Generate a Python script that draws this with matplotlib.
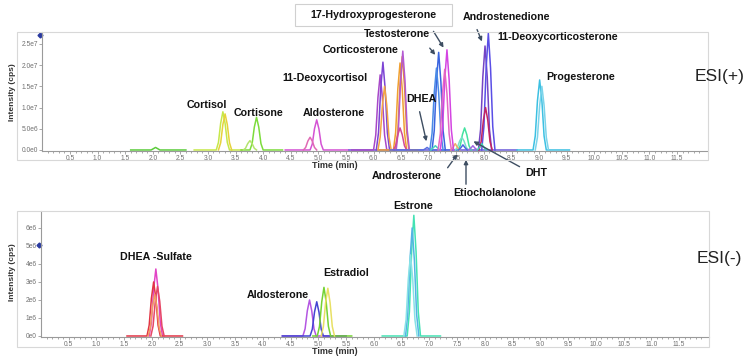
import numpy as np
import matplotlib
matplotlib.use("Agg")
import matplotlib.pyplot as plt
from matplotlib.patches import Rectangle, FancyArrowPatch

plt.rcParams['font.family'] = ['Liberation Sans', 'DejaVu Sans']

# ---------------- ESI(+) traces : time (min), intensity (1e7 cps) ----------------
early_t = [[1.6, 1.97, 2.01, 2.05, 2.09, 2.13, 2.6]]
early_i = [[0, 0, 0.03, 0.06, 0.03, 0, 0]]
early_c = ['#5ccc3c']

cortisol_t = [[2.75, 3.15, 3.19, 3.23, 3.27, 3.31, 3.35, 3.39, 3.62],
              [3.19, 3.23, 3.27, 3.31, 3.35, 3.39, 3.43]]
cortisol_i = [[0, 0, 0.18, 0.63, 0.9, 0.63, 0.18, 0, 0],
              [0, 0.17, 0.6, 0.85, 0.6, 0.17, 0]]
cortisol_c = ['#c6e84a', '#e6d23c']

cortisone_t = [[3.6, 3.76, 3.8, 3.84, 3.88, 3.92, 3.96, 4.0, 4.35],
               [3.64, 3.68, 3.72, 3.76, 3.8, 3.84, 3.88]]
cortisone_i = [[0, 0, 0.15, 0.54, 0.77, 0.54, 0.15, 0, 0],
               [0, 0.04, 0.15, 0.22, 0.15, 0.04, 0]]
cortisone_c = ['#7ddc3c', '#b4e46e']

aldo_pos_t = [[4.4, 4.85, 4.89, 4.93, 4.97, 5.01, 5.05, 5.09, 5.55],
              [4.73, 4.77, 4.81, 4.85, 4.89, 4.93, 4.97]]
aldo_pos_i = [[0, 0, 0.14, 0.5, 0.71, 0.5, 0.14, 0, 0],
              [0, 0.06, 0.21, 0.3, 0.21, 0.06, 0]]
aldo_pos_c = ['#d452d4', '#e06ab4']

baseline_t = [[5.55, 8.6]]
baseline_i = [[0, 0]]
baseline_c = ['#6a5ad8']

deoxycortisol_t = [[5.6, 6.0, 6.04, 6.08, 6.12, 6.16, 6.2, 6.24],
                   [6.05, 6.09, 6.13, 6.17, 6.21, 6.25, 6.29, 6.4],
                   [6.08, 6.12, 6.16, 6.2, 6.24, 6.28, 6.32]]
deoxycortisol_i = [[0, 0, 0.35, 1.24, 1.77, 1.24, 0.35, 0],
                   [0, 0.41, 1.45, 2.07, 1.45, 0.41, 0, 0],
                   [0, 0.3, 1.05, 1.5, 1.05, 0.3, 0]]
deoxycortisol_c = ['#a848c8', '#7c44d4', '#f2a444']

corticosterone_t = [[6.1, 6.36, 6.4, 6.44, 6.48, 6.52, 6.56, 6.6],
                    [6.4, 6.44, 6.48, 6.52, 6.56, 6.6, 6.64, 6.8],
                    [6.41, 6.45, 6.49, 6.53, 6.57, 6.61, 6.65],
                    [6.36, 6.4, 6.44, 6.48, 6.52, 6.56, 6.6]]
corticosterone_i = [[0, 0, 0.41, 1.44, 2.05, 1.44, 0.41, 0],
                    [0, 0.44, 1.54, 2.2, 1.54, 0.44, 0, 0],
                    [0, 0.47, 1.63, 2.33, 1.63, 0.47, 0],
                    [0, 0.1, 0.36, 0.52, 0.36, 0.1, 0]]
corticosterone_c = ['#f0a030', '#e8902c', '#b45ad2', '#d24a96']

dhea_t = [[6.3, 6.9, 6.94, 6.97, 7.0, 7.04, 7.5]]
dhea_i = [[0, 0, 0.03, 0.06, 0.03, 0, 0]]
dhea_c = ['#5a6ee0']

testo_t = [[7.06, 7.1, 7.14, 7.18, 7.22, 7.26, 7.3],
           [7.02, 7.06, 7.1, 7.14, 7.18, 7.22, 7.26],
           [7.04, 7.08, 7.12, 7.16, 7.2]]
testo_i = [[0, 0.46, 1.61, 2.3, 1.61, 0.46, 0],
           [0, 0.39, 1.35, 1.93, 1.35, 0.39, 0],
           [0, 0.05, 0.1, 0.05, 0]]
testo_c = ['#3a64e0', '#4a8ae6', '#48d6bc']

ohp_t = [[7.21, 7.25, 7.29, 7.33, 7.37, 7.41, 7.45],
         [7.17, 7.21, 7.25, 7.29, 7.33, 7.37, 7.41]]
ohp_i = [[0, 0.47, 1.65, 2.36, 1.65, 0.47, 0],
         [0, 0.38, 1.33, 1.9, 1.33, 0.38, 0]]
ohp_c = ['#d444e2', '#e466c4']

minor_t = [[7.53, 7.57, 7.61, 7.65, 7.69, 7.73, 7.77],
           [7.48, 7.52, 7.56, 7.6, 7.64, 7.68, 7.72],
           [7.4, 7.44, 7.48, 7.52, 7.56],
           [7.54, 7.58, 7.62, 7.66, 7.7],
           [7.72, 7.76, 7.8, 7.84, 7.88]]
minor_i = [[0, 0.1, 0.36, 0.52, 0.36, 0.1, 0],
           [0, 0.06, 0.21, 0.3, 0.21, 0.06, 0],
           [0, 0.06, 0.15, 0.06, 0],
           [0, 0.05, 0.12, 0.05, 0],
           [0, 0.04, 0.1, 0.04, 0]]
minor_c = ['#44e2a0', '#78e2c8', '#f0a868', '#4a66e0', '#a064e0']

dione_t = [[7.9, 7.94, 7.98, 8.02, 8.06, 8.1, 8.14],
           [7.96, 8.0, 8.04, 8.08, 8.12, 8.16, 8.2],
           [7.91, 7.95, 7.99, 8.03, 8.07, 8.11, 8.15],
           [7.88, 7.92, 7.96, 8.0, 8.04]]
dione_i = [[0, 0.49, 1.72, 2.45, 1.72, 0.49, 0],
           [0, 0.55, 1.93, 2.75, 1.93, 0.55, 0],
           [0, 0.2, 0.7, 1.0, 0.7, 0.2, 0],
           [0, 0.06, 0.15, 0.06, 0]]
dione_c = ['#7444c4', '#5a4ee6', '#c42462', '#44d4b4']

prog_t = [[8.6, 8.89, 8.93, 8.97, 9.01, 9.05, 9.09, 9.13, 9.55],
          [8.93, 8.97, 9.01, 9.05, 9.09, 9.13, 9.17]]
prog_i = [[0, 0, 0.33, 1.16, 1.65, 1.16, 0.33, 0, 0],
          [0, 0.3, 1.05, 1.5, 1.05, 0.3, 0]]
prog_c = ['#3cc0e2', '#7cd4ea']

# ---------------- ESI(-) traces : time (min), intensity (1e6 cps) ----------------
dheas_t = [[1.95, 1.99, 2.03, 2.07, 2.11, 2.15, 2.19],
           [1.55, 1.91, 1.95, 1.99, 2.03, 2.07, 2.11, 2.15, 2.55],
           [1.98, 2.02, 2.06, 2.1, 2.14, 2.18, 2.22],
           [1.93, 1.97, 2.01, 2.05, 2.09, 2.13, 2.17]]
dheas_i = [[0, 0.74, 2.6, 3.72, 2.6, 0.74, 0],
           [0, 0, 0.6, 2.1, 3.0, 2.1, 0.6, 0, 0],
           [0, 0.55, 1.93, 2.75, 1.93, 0.55, 0],
           [0, 0.46, 1.61, 2.3, 1.61, 0.46, 0]]
dheas_c = ['#e244c6', '#e23444', '#e64866', '#f0a064']

aldo_neg_t = [[4.35, 4.72, 4.76, 4.8, 4.84, 4.88, 4.92, 4.96, 5.5],
              [4.35, 4.85, 4.89, 4.93, 4.97, 5.01, 5.05, 5.09, 5.5]]
aldo_neg_i = [[0, 0, 0.4, 1.4, 2.0, 1.4, 0.4, 0, 0],
              [0, 0, 0.38, 1.33, 1.9, 1.33, 0.38, 0, 0]]
aldo_neg_c = ['#b456e2', '#4444d2']

estradiol_t = [[4.9, 4.98, 5.02, 5.06, 5.1, 5.14, 5.18, 5.22, 5.6],
               [5.05, 5.09, 5.13, 5.17, 5.21, 5.25, 5.29]]
estradiol_i = [[0, 0, 0.54, 1.89, 2.7, 1.89, 0.54, 0, 0],
               [0, 0.53, 1.86, 2.65, 1.86, 0.53, 0]]
estradiol_c = ['#74d234', '#e8e064']

estrone_t = [[6.15, 6.6, 6.64, 6.68, 6.72, 6.76, 6.8, 6.84, 7.2],
             [6.57, 6.61, 6.65, 6.69, 6.73, 6.77, 6.81],
             [6.54, 6.58, 6.62, 6.66, 6.7, 6.74, 6.78]]
estrone_i = [[0, 0, 1.34, 4.69, 6.7, 4.69, 1.34, 0, 0],
             [0, 1.2, 4.2, 6.0, 4.2, 1.2, 0],
             [0, 0.9, 3.15, 4.5, 3.15, 0.9, 0]]
estrone_c = ['#44e2b4', '#54b4e4', '#88e2e6']

x_ticks = np.arange(0.5, 12.0, 0.5)
pos_yticks = [0, 0.5e7, 1.0e7, 1.5e7, 2.0e7, 2.5e7]
pos_ylabels = ['0.0e0', '5.0e6', '1.0e7', '1.5e7', '2.0e7', '2.5e7']
neg_yticks = [0, 1e6, 2e6, 3e6, 4e6, 5e6, 6e6]
neg_ylabels = ['0e0', '1e6', '2e6', '3e6', '4e6', '5e6', '6e6']

W, H = 750, 360


def fx(px):
    return px / W


def fy(py):
    return 1 - py / H


fig = plt.figure(figsize=(7.5, 3.6), dpi=100)
ax1 = fig.add_axes([fx(42.4), fy(151), fx(708 - 42.4), (151 - 32) / H])
ax2 = fig.add_axes([fx(41), fy(337), fx(709 - 41), (337 - 211) / H])

pos_groups = [(early_t, early_i, early_c), (cortisol_t, cortisol_i, cortisol_c),
              (cortisone_t, cortisone_i, cortisone_c), (aldo_pos_t, aldo_pos_i, aldo_pos_c),
              (baseline_t, baseline_i, baseline_c), (deoxycortisol_t, deoxycortisol_i, deoxycortisol_c),
              (corticosterone_t, corticosterone_i, corticosterone_c), (dhea_t, dhea_i, dhea_c),
              (minor_t, minor_i, minor_c), (testo_t, testo_i, testo_c), (ohp_t, ohp_i, ohp_c),
              (dione_t, dione_i, dione_c), (prog_t, prog_i, prog_c)]
neg_groups = [(dheas_t, dheas_i, dheas_c), (aldo_neg_t, aldo_neg_i, aldo_neg_c),
              (estradiol_t, estradiol_i, estradiol_c), (estrone_t, estrone_i, estrone_c)]

for ts, ys, cs in pos_groups:
    for t, y, c in zip(ts, ys, cs):
        ax1.plot(t, np.array(y) * 1e7, color=c, lw=1.1)
for ts, ys, cs in neg_groups:
    for t, y, c in zip(ts, ys, cs):
        ax2.plot(t, np.array(y) * 1e6, color=c, lw=1.1)

ax1.set_xlim(0, 12.06)
ax1.set_ylim(-0.024e7, 2.78e7)
ax2.set_xlim(0, 12.04)
ax2.set_ylim(-0.056e6, 6.94e6)
ax1.set_yticks(pos_yticks)
ax1.set_yticklabels(pos_ylabels)
ax2.set_yticks(neg_yticks)
ax2.set_yticklabels(neg_ylabels)

for ax in (ax1, ax2):
    ax.set_xticks(x_ticks)
    ax.set_xticklabels(['%.1f' % v for v in x_ticks])
    ax.set_xticks(np.arange(0.1, 12.0, 0.1), minor=True)
    for s in ('top', 'right'):
        ax.spines[s].set_visible(False)
    for s in ('left', 'bottom'):
        ax.spines[s].set_color('#9a9a9a')
        ax.spines[s].set_linewidth(0.8)
    ax.tick_params(which='both', labelsize=4.8, labelcolor='#707070', color='#9a9a9a',
                   length=2, width=0.6, pad=1.0)
    ax.tick_params(which='minor', length=1.2)
    ax.patch.set_alpha(0)

ax1.plot([-0.04], [2.7e7], marker='D', ms=2.5, color='#2a3aa0', clip_on=False)
ax2.plot([-0.04], [5.05e6], marker='D', ms=2.5, color='#2a3aa0', clip_on=False)

# outer frames
fig.patches.append(Rectangle((fx(17), fy(160)), fx(708 - 17), 128 / H, transform=fig.transFigure,
                             fill=False, ec='#d8d8d8', lw=0.8))
fig.patches.append(Rectangle((fx(17), fy(347)), fx(709 - 17), 136 / H, transform=fig.transFigure,
                             fill=False, ec='#d8d8d8', lw=0.8))

# axis titles
fig.text(fx(13), fy(92), 'Intensity (cps)', rotation=90, ha='center', va='center',
         fontsize=6, fontweight='bold', color='#333333')
fig.text(fx(13), fy(272), 'Intensity (cps)', rotation=90, ha='center', va='center',
         fontsize=6, fontweight='bold', color='#333333')
fig.text(fx(335), fy(166), 'Time (min)', ha='center', va='center',
         fontsize=6.5, fontweight='bold', color='#333333')
fig.text(fx(335), fy(352), 'Time (min)', ha='center', va='center',
         fontsize=6.5, fontweight='bold', color='#333333')

fig.text(fx(695), fy(76), 'ESI(+)', ha='left', va='center', fontsize=12.5, color='#222222')
fig.text(fx(697), fy(259), 'ESI(-)', ha='left', va='center', fontsize=12.5, color='#222222')

# compound labels
pos_labels = [('Cortisol', 207, 105), ('Cortisone', 258, 113), ('Aldosterone', 334, 113),
              ('11-Deoxycortisol', 325, 78), ('Corticosterone', 361, 50), ('Testosterone', 397, 34),
              ('DHEA', 421, 99), ('Androstenedione', 506, 17), ('11-Deoxycorticosterone', 558, 37),
              ('Progesterone', 581, 77), ('Androsterone', 407, 176), ('Etiocholanolone', 495, 193),
              ('DHT', 536, 173),
              ('DHEA -Sulfate', 156, 257), ('Aldosterone', 278, 295), ('Estradiol', 346, 273),
              ('Estrone', 413, 206)]
for txt, x, y in pos_labels:
    fig.text(fx(x), fy(y), txt, ha='center', va='center', fontsize=7.7, fontweight='bold',
             color='#111111')

fig.patches.append(Rectangle((fx(295), fy(26)), fx(452 - 295), 22 / H, transform=fig.transFigure,
                             fill=True, fc='white', ec='#d0d0d0', lw=0.8))
fig.text(fx(373), fy(15), '17-Hydroxyprogesterone', ha='center', va='center', fontsize=7.7,
         fontweight='bold', color='#111111')

# arrows (start px, end px)
arrows = [((432, 29), (445, 50)), ((428, 46), (437, 57)), ((476, 27), (483, 44)),
          ((419, 109), (427, 144)), ((446, 170), (459, 152)), ((466, 187), (466, 157)),
          ((522, 168), (471, 140))]
for (x0, y0), (x1, y1) in arrows:
    fig.add_artist(FancyArrowPatch(
        (fx(x0), fy(y0)), (fx(x1), fy(y1)), transform=fig.transFigure,
        arrowstyle='-|>', mutation_scale=6, color='#3e4e62', lw=1.0))

fig.savefig('out.png', dpi=100)
